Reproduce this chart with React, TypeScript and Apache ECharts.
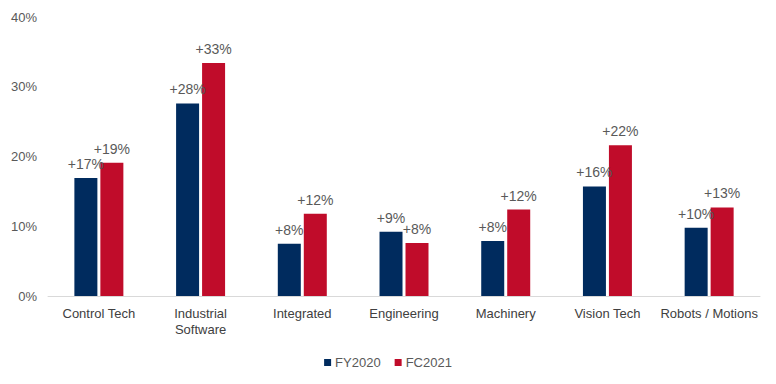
import React, { useEffect, useRef } from "react";
import * as echarts from "echarts";

const categories = ["Control Tech", "Industrial\nSoftware", "Integrated", "Engineering", "Machinery", "Vision Tech", "Robots / Motions"];
const fy2020 = [16.9, 27.6, 7.5, 9.2, 7.9, 15.7, 9.8];
const fc2021 = [19.1, 33.4, 11.8, 7.6, 12.4, 21.6, 12.7];
const fy2020Labels = ["+17%", "+28%", "+8%", "+9%", "+8%", "+16%", "+10%"];
const fc2021Labels = ["+19%", "+33%", "+12%", "+8%", "+12%", "+22%", "+13%"];
const yTicks = [0, 10, 20, 30, 40];

export default function App() {
  const ref = useRef<HTMLDivElement>(null);
  useEffect(() => {
    if (!ref.current) return;
    const chart = echarts.init(ref.current, null, { renderer: "svg" });
    const font = "'Liberation Sans', Arial, sans-serif";
    chart.setOption({
      animation: false,
      textStyle: { fontFamily: font },
      grid: { left: 40, right: 8, top: 9, bottom: 80, containLabel: false },
      legend: {
        top: 343,
        left: "center",
        itemWidth: 7,
        itemHeight: 7,
        itemGap: 14,
        icon: "rect",
        textStyle: { color: "#595959", fontSize: 13, fontFamily: font, padding: [0, 0, 0, -1] },
        data: ["FY2020", "FC2021"],
      },
      xAxis: {
        type: "category",
        data: categories,
        axisLine: { lineStyle: { color: "#d9d9d9" } },
        axisTick: { show: false },
        axisLabel: { color: "#404040", fontSize: 13, fontFamily: font, margin: 9, interval: 0, lineHeight: 16 },
      },
      yAxis: {
        type: "value",
        min: yTicks[0],
        max: yTicks[yTicks.length - 1],
        interval: 10,
        splitLine: { show: false },
        axisLine: { show: false },
        axisTick: { show: false },
        axisLabel: { color: "#595959", fontSize: 13, fontFamily: font, margin: 11, formatter: "{value}%" },
      },
      series: [
        {
          name: "FY2020",
          type: "bar",
          data: fy2020,
          barWidth: 23,
          barGap: "13%",
          itemStyle: { color: "#002B5E" },
          label: {
            show: true,
            position: "top",
            distance: 7,
            color: "#595959",
            fontSize: 14,
            fontFamily: font,
            formatter: (p: any) => fy2020Labels[p.dataIndex],
          },
        },
        {
          name: "FC2021",
          type: "bar",
          data: fc2021,
          barWidth: 23,
          itemStyle: { color: "#C00C2A" },
          label: {
            show: true,
            position: "top",
            distance: 7,
            color: "#595959",
            fontSize: 14,
            fontFamily: font,
            formatter: (p: any) => fc2021Labels[p.dataIndex],
          },
        },
      ],
    });
    return () => chart.dispose();
  }, []);
  return <div ref={ref} style={{ width: 760, height: 368 }} />;
}
